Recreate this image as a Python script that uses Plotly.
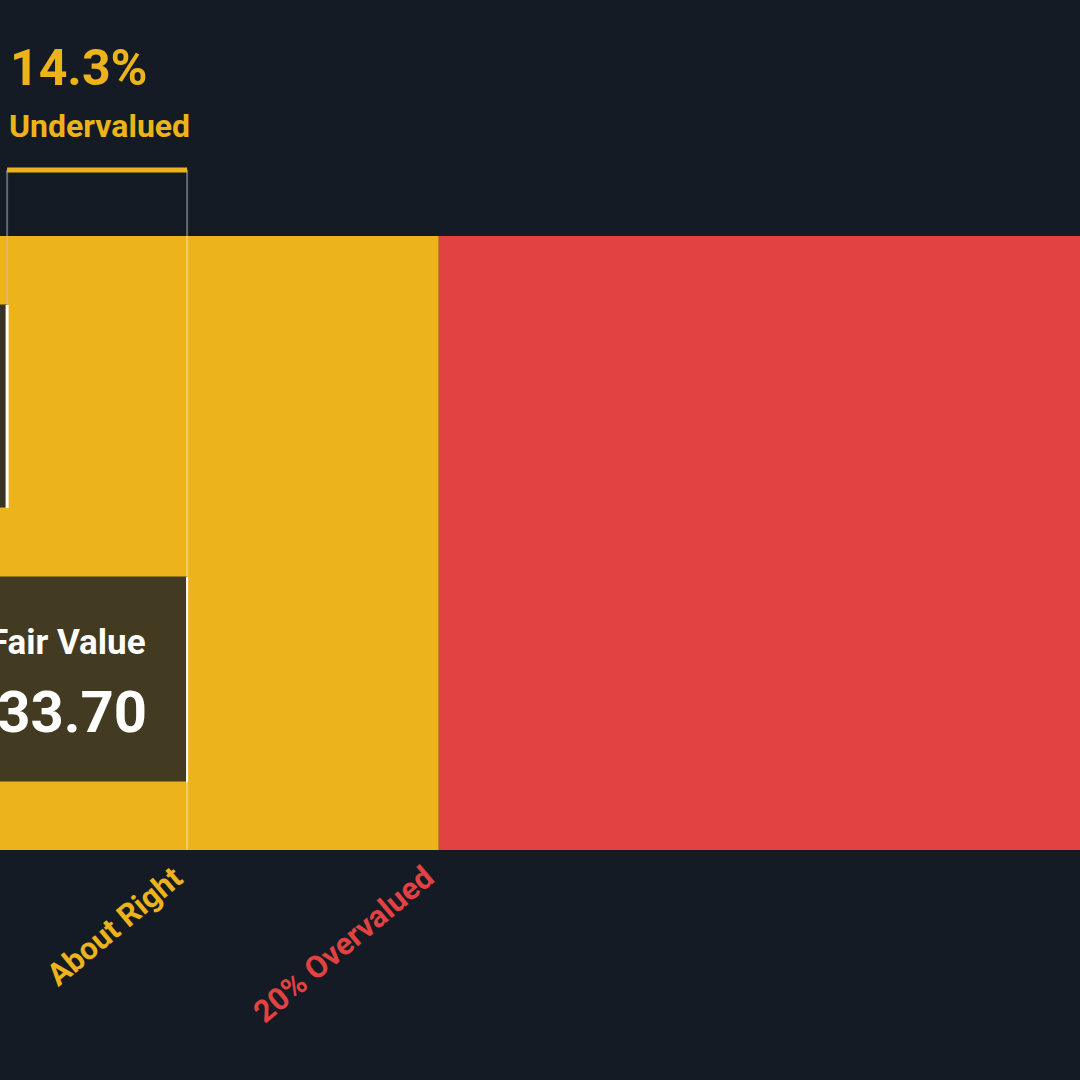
import plotly.graph_objects as go

fair_value = 33.70
current_price = 28.88
undervalued_pct = "14.3%"
band_labels = ["About Right", "20% Overvalued"]
band_edges = [fair_value * 0.8, fair_value * 1.2, fair_value * 3]
band_colors = ["#edb31a", "#e34242"]

BG = "#151b24"
x0 = 28.69
x1 = 57.61
px = (x1 - x0) / 1080.0

fig = go.Figure()
fig.add_trace(go.Bar(y=[543], x=[band_edges[1] - band_edges[0]], base=[band_edges[0]],
                     orientation="h", width=614, marker=dict(color=band_colors[0], line=dict(width=0)),
                     hoverinfo="skip"))
fig.add_trace(go.Bar(y=[543], x=[band_edges[2] - band_edges[1]], base=[band_edges[1]],
                     orientation="h", width=614, marker=dict(color=band_colors[1], line=dict(width=0)),
                     hoverinfo="skip"))
fig.add_trace(go.Bar(y=[406], x=[current_price - 20], base=[20], orientation="h", width=203,
                     marker=dict(color="#3a3222", line=dict(width=0)), hoverinfo="skip"))
fig.add_trace(go.Bar(y=[679], x=[fair_value - 20], base=[20], orientation="h", width=205,
                     marker=dict(color="#433a22", line=dict(width=0)), hoverinfo="skip"))

shapes = [
    dict(type="line", x0=current_price, x1=current_price, y0=305, y1=508, line=dict(color="white", width=3)),
    dict(type="line", x0=fair_value, x1=fair_value, y0=577, y1=782, line=dict(color="white", width=2)),
    dict(type="line", x0=current_price, x1=current_price, y0=170, y1=305, line=dict(color="rgba(200,200,200,0.45)", width=2)),
    dict(type="line", x0=fair_value, x1=fair_value, y0=170, y1=850, line=dict(color="rgba(255,255,255,0.35)", width=2)),
    dict(type="line", x0=current_price, x1=fair_value, y0=170, y1=170, line=dict(color=band_colors[0], width=5)),
]

ann = [
    dict(x=current_price + 1 * px, y=68, text="<b>" + undervalued_pct + "</b>", xanchor="left", yanchor="middle",
         font=dict(size=50, color=band_colors[0], family="Roboto"), showarrow=False),
    dict(x=current_price, y=126, text="<b>Undervalued</b>", xanchor="left", yanchor="middle",
         font=dict(size=32, color=band_colors[0], family="Roboto"), showarrow=False),
    dict(x=fair_value - 39 * px, y=642, text="<b>Current Fair Value</b>", xanchor="right", yanchor="middle",
         font=dict(size=35, color="white", family="Roboto"), showarrow=False),
    dict(x=fair_value - 38 * px, y=712, text="<b>US$" + f"{fair_value:.2f}" + "</b>", xanchor="right", yanchor="middle",
         font=dict(size=58, color="white", family="Roboto"), showarrow=False),
    dict(x=fair_value + 5 * px, y=856,
         text="<b>" + band_labels[0] + "</b>", xanchor="right", yanchor="top", textangle=-40,
         font=dict(size=31, color=band_colors[0], family="Roboto"), showarrow=False),
    dict(x=band_edges[1] + 5 * px, y=856, text="<b>" + band_labels[1] + "</b>", xanchor="right", yanchor="top",
         textangle=-40, font=dict(size=31, color=band_colors[1], family="Roboto"), showarrow=False),
]

fig.update_layout(
    width=1080, height=1080, margin=dict(l=0, r=0, t=0, b=0),
    paper_bgcolor=BG, plot_bgcolor=BG, showlegend=False, barmode="overlay",
    xaxis=dict(range=[x0, x1], visible=False, fixedrange=True),
    yaxis=dict(range=[1080, 0], visible=False, fixedrange=True),
    shapes=shapes, annotations=ann,
)
fig.write_html("out.html", config={"displayModeBar": False},
               post_script="document.body.style.margin='0';document.body.style.background='#151b24';")
